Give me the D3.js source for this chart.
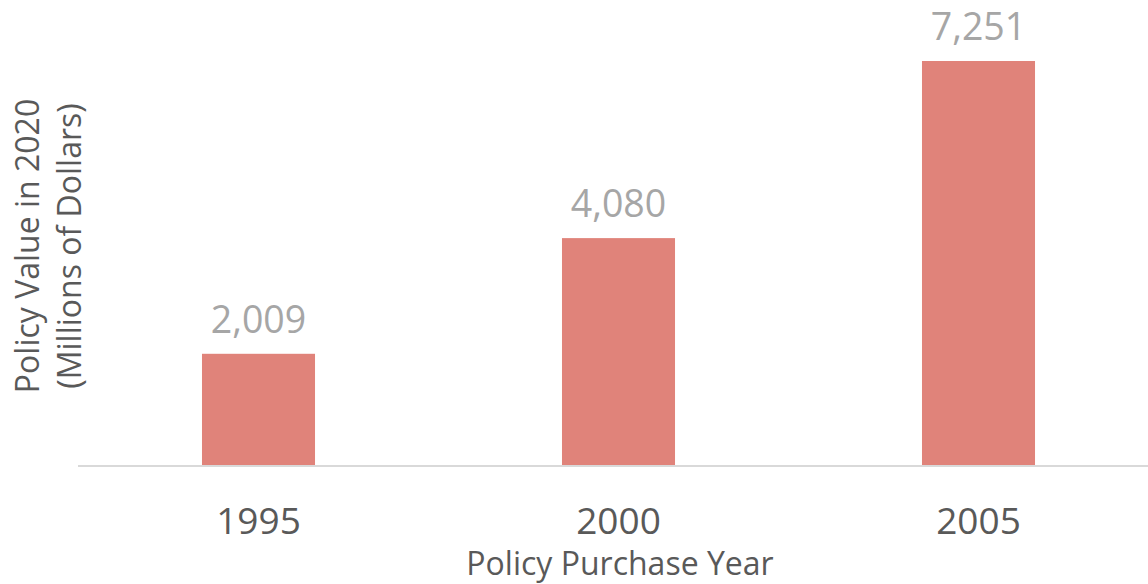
<!DOCTYPE html>
<html><head><meta charset="utf-8">
<script src="https://cdn.jsdelivr.net/npm/d3@7"></script>
<style>body{margin:0;background:#fff;}svg{display:block;font-family:"Open Sans",sans-serif;}</style>
</head><body>
<svg id="c" width="1148" height="584"></svg>
<script>
const categories = ["1995", "2000", "2005"];
const values = [2009, 4080, 7251];
const xTitle = "Policy Purchase Year";
const yTitleLines = ["Policy Value in 2020", "(Millions of Dollars)"];

const svg = d3.select("#c");
const baseY = 466;
const x = d3.scaleBand().domain(categories).range([78.5, 1158.5]).paddingInner(0.686).paddingOuter(0.343);
const y = d3.scaleLinear().domain([0, 8000]).range([baseY, baseY - 405 * 8000 / 7251]);

svg.selectAll("rect.bar").data(values).join("rect")
  .attr("class", "bar")
  .attr("x", (d, i) => x(categories[i]))
  .attr("width", x.bandwidth())
  .attr("y", d => y(d))
  .attr("height", d => baseY - y(d))
  .attr("fill", "#e0837a");

svg.selectAll("text.val").data(values).join("text")
  .attr("class", "val")
  .attr("x", (d, i) => x(categories[i]) + x.bandwidth() / 2)
  .attr("y", d => y(d) - 21)
  .attr("text-anchor", "middle")
  .attr("font-size", 37.5)
  .attr("fill", "#a6a6a6")
  .text(d => d3.format(",")(d));

const xAxis = svg.append("g").attr("transform", `translate(0,${baseY})`)
  .call(d3.axisBottom(x).tickSize(0).tickPadding(0));
xAxis.select(".domain").attr("stroke", "#d9d9d9").attr("stroke-width", 2).attr("d", "M78,0H1148");
xAxis.selectAll(".tick text").attr("font-size", 37).attr("fill", "#595959")
  .attr("font-family", "Open Sans").attr("dy", 0).attr("y", 68);

svg.append("text").attr("x", 620).attr("y", 575).attr("text-anchor", "middle")
  .attr("font-size", 32).attr("fill", "#595959").text(xTitle);

const yt = svg.append("text").attr("transform", "translate(0,246) rotate(-90)")
  .attr("text-anchor", "middle").attr("font-size", 32).attr("fill", "#595959");
yt.selectAll("tspan").data(yTitleLines).join("tspan")
  .attr("x", 0).attr("y", (d, i) => 39 + i * 42).text(d => d);
</script>
</body></html>
